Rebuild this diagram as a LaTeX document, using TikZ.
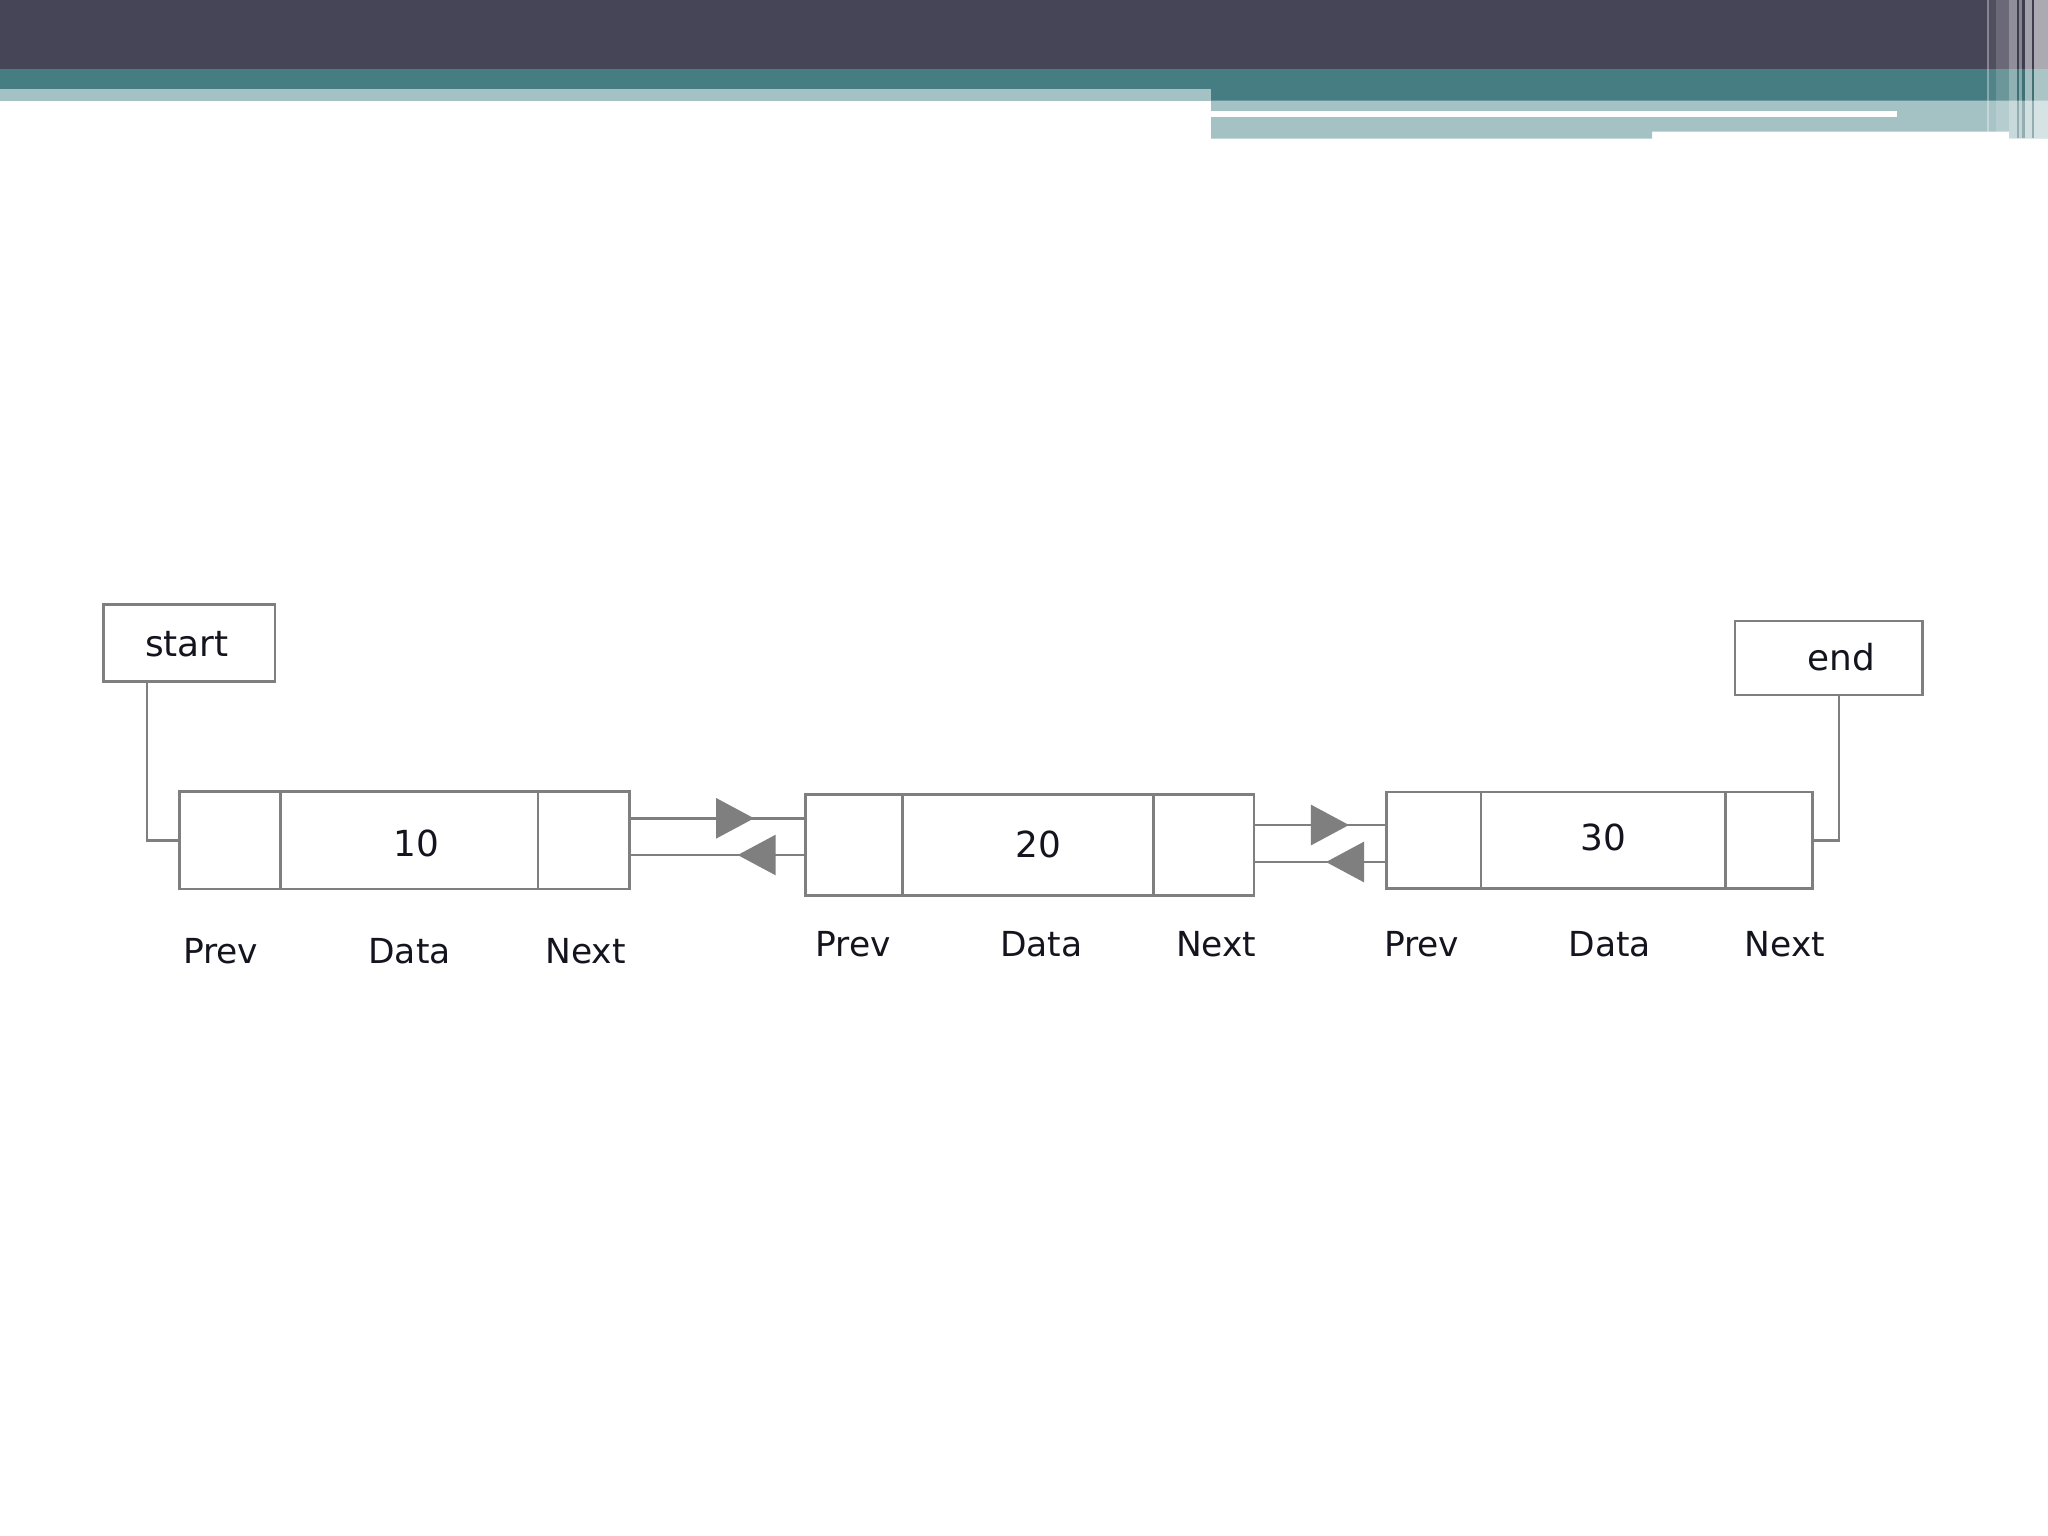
\documentclass[tikz,border=0pt]{standalone}
\usepackage{fontspec}
\setmainfont{DejaVu Sans}
\usetikzlibrary{arrows.meta,decorations.markings}
\definecolor{hdark}{RGB}{70,68,87}
\definecolor{hteal}{RGB}{70,125,130}
\definecolor{hlight}{RGB}{164,193,196}
\definecolor{linegray}{RGB}{127,127,127}
\definecolor{txt}{RGB}{20,20,30}
\tikzset{
  cell/.style={draw=linegray, line width=0.78pt, inner sep=0pt, outer sep=0pt, anchor=north west},
  ptrbox/.style={draw=linegray, line width=0.78pt, inner sep=0pt, outer sep=0pt, anchor=north west},
  lab/.style={font=\fontsize{9.8pt}{12pt}\selectfont, text=txt, inner sep=0pt, anchor=base},
  val/.style={font=\fontsize{10.2pt}{12pt}\selectfont, text=txt, inner sep=0pt, anchor=base},
  link/.style={draw=linegray, line width=0.78pt},
  ptr/.style={draw=linegray, line width=0.78pt, postaction=decorate,
    decoration={markings, mark=at position #1 with {\arrow[linegray]{Triangle[length=0.38cm,width=0.4cm]}}}},
  stripe/.style={fill=white, draw=none}
}
\begin{document}
\begin{tikzpicture}[x=0.01cm,y=-0.01cm]
\useasboundingbox (0,0) rectangle (2048,1536);
\fill[white] (0,0) rectangle (2048,1536);
% header bands
\fill[hdark] (0,0) rectangle (2048,69);
\fill[hteal] (0,69) rectangle (1211,89);
\fill[hteal] (1211,69) rectangle (2048,100.7);
\fill[hlight] (0,89) rectangle (1211,100.7);
\fill[hlight] (1211,100.7) -- (2048,100.7) -- (2048,138.3) -- (2009,138.3) -- (2009,131.7) -- (1652,131.7) -- (1652,138.7) -- (1211,138.7) -- cycle;
\fill[white] (1211,110.7) rectangle (1897,117.3);
% right stripes
\fill[stripe, fill opacity=0.35] (1986.7,0) rectangle (1989.3,131.7);
\fill[stripe, fill opacity=0.06] (1989.3,0) rectangle (1996,131.7);
\fill[stripe, fill opacity=0.2] (1996,0) rectangle (2009.3,131.7);
\fill[stripe, fill opacity=0.4] (2009.3,0) rectangle (2016.7,138.3);
\fill[black, fill opacity=0.1] (2016.7,0) rectangle (2018.7,138.3);
\fill[stripe, fill opacity=0.35] (2018.7,0) rectangle (2022,138.3);
\fill[black, fill opacity=0.1] (2022,0) rectangle (2025,138.3);
\fill[stripe, fill opacity=0.5] (2025,0) rectangle (2031.7,138.3);
\fill[black, fill opacity=0.1] (2031.7,0) rectangle (2034,138.3);
\fill[stripe, fill opacity=0.55] (2034,0) rectangle (2048,138.3);

% pointer boxes
\node[ptrbox, minimum width=1.718cm, minimum height=0.77cm] (sb) at (103.2,604.5) {};
\node[lab, font=\fontsize{10.2pt}{12pt}\selectfont] (sbt) at (187,656.7) {start};
\node[ptrbox, minimum width=1.877cm, minimum height=0.74cm] (eb) at (1735,621) {};
\node[lab, font=\fontsize{10.2pt}{12pt}\selectfont] (ebt) at (1841.7,670) {end};

% node 1
\node[cell, minimum width=1.008cm, minimum height=0.973cm] (n1p) at (179.6,791.7) {};
\node[cell, minimum width=2.575cm, minimum height=0.973cm] (n1d) at (280.4,791.7) {};
\node[cell, minimum width=0.914cm, minimum height=0.973cm] (n1n) at (537.9,791.7) {};
\node[val] (v1) at (416.7,856.7) {10};
% node 2
\node[cell, minimum width=0.972cm, minimum height=1.006cm] (n2p) at (805.5,794.7) {};
\node[cell, minimum width=2.506cm, minimum height=1.006cm] (n2d) at (902.7,794.7) {};
\node[cell, minimum width=1.007cm, minimum height=1.006cm] (n2n) at (1153.3,794.7) {};
\node[val] (v2) at (1038,857.3) {20};
% node 3
\node[cell, minimum width=0.942cm, minimum height=0.963cm] (n3p) at (1386.8,792) {};
\node[cell, minimum width=2.44cm, minimum height=0.963cm] (n3d) at (1481,792) {};
\node[cell, minimum width=0.877cm, minimum height=0.963cm] (n3n) at (1725,792) {};
\node[val] (v3) at (1603.3,850.7) {30};

% labels
\node[lab] (l1p) at (220.7,963.3) {Prev};
\node[lab] (l1d) at (409.6,963.3) {Data};
\node[lab] (l1n) at (585.5,963.3) {Next};
\node[lab] (l2p) at (853,956.7) {Prev};
\node[lab] (l2d) at (1041.3,956.7) {Data};
\node[lab] (l2n) at (1216.3,956.7) {Next};
\node[lab] (l3p) at (1421.7,956.7) {Prev};
\node[lab] (l3d) at (1609.7,956.7) {Data};
\node[lab] (l3n) at (1785,956.7) {Next};

% start / end connectors
\coordinate (sdrop) at (147,0);
\coordinate (edrop) at (1839,0);
\draw[link] (sb.south -| sdrop) |- (n1p.west);
\draw[link] (eb.south -| edrop) |- (n3n.east);

% links between nodes
\coordinate (ya1) at (0,818.3);
\coordinate (yb1) at (0,855);
\coordinate (ya2) at (0,825);
\coordinate (yb2) at (0,862);
\draw[ptr=0.708] (n1n.east |- ya1) -- (n2p.west |- ya1);
\draw[ptr=0.385] (n2p.west |- yb1) -- (n1n.east |- yb1);
\draw[ptr=0.715] (n2n.east |- ya2) -- (n3p.west |- ya2);
\draw[ptr=0.458] (n3p.west |- yb2) -- (n2n.east |- yb2);
\end{tikzpicture}
\end{document}
